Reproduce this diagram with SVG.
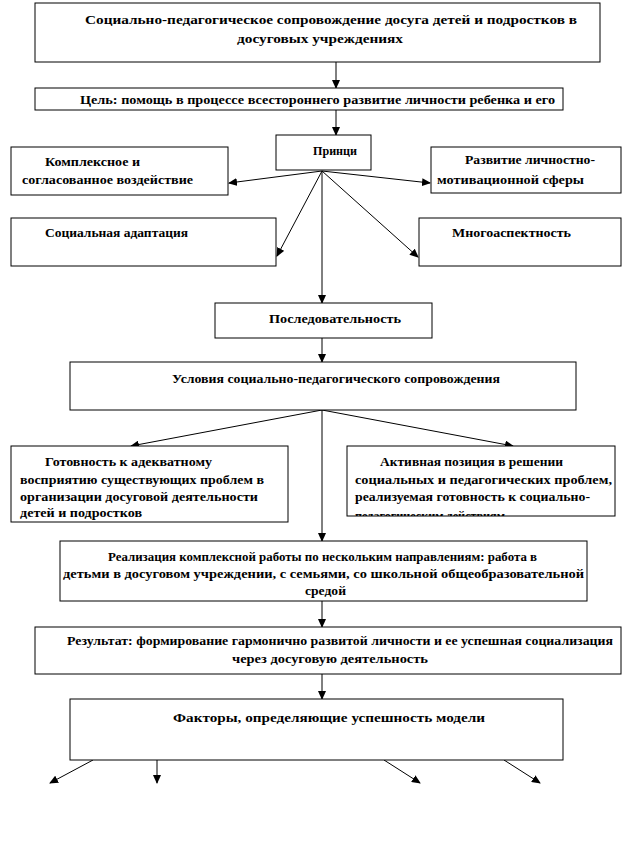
<svg xmlns="http://www.w3.org/2000/svg" width="636" height="856" viewBox="0 0 636 856">
<style>
.b{fill:#fff;stroke:#000;stroke-width:1}
text{font-family:'Liberation Serif','DejaVu Serif',serif;font-weight:bold;font-size:13px;fill:#000}
.l{stroke:#000;stroke-width:1;fill:none}
</style>
<defs>
<marker id="a" markerUnits="userSpaceOnUse" markerWidth="9" markerHeight="8" refX="8" refY="4" orient="auto">
<path d="M0,0 L9,4 L0,8 z" fill="#000"/>
</marker>
<clipPath id="clip11"><rect x="347" y="446" width="268" height="70"/></clipPath>
</defs>
<rect width="636" height="856" fill="#fff"/>
<g id="connectors">
<line class="l" x1="336" y1="62" x2="336" y2="88" marker-end="url(#a)"/>
<line class="l" x1="336" y1="110" x2="336" y2="135" marker-end="url(#a)"/>
<line class="l" x1="322" y1="171" x2="229" y2="183" marker-end="url(#a)"/>
<line class="l" x1="322" y1="171" x2="430" y2="183" marker-end="url(#a)"/>
<line class="l" x1="322" y1="171" x2="277" y2="256" marker-end="url(#a)"/>
<line class="l" x1="322" y1="171" x2="418" y2="257" marker-end="url(#a)"/>
<line class="l" x1="322" y1="171" x2="322" y2="303" marker-end="url(#a)"/>
<line class="l" x1="322" y1="338" x2="322" y2="362" marker-end="url(#a)"/>
<line class="l" x1="322" y1="410" x2="131" y2="446" marker-end="url(#a)"/>
<line class="l" x1="322" y1="410" x2="513" y2="446" marker-end="url(#a)"/>
<line class="l" x1="322" y1="410" x2="322" y2="541" marker-end="url(#a)"/>
<line class="l" x1="322" y1="601" x2="322" y2="627" marker-end="url(#a)"/>
<line class="l" x1="322" y1="674" x2="322" y2="699" marker-end="url(#a)"/>
<line class="l" x1="93" y1="760" x2="50" y2="783" marker-end="url(#a)"/>
<line class="l" x1="157" y1="760" x2="157" y2="783" marker-end="url(#a)"/>
<line class="l" x1="384" y1="760" x2="420" y2="783" marker-end="url(#a)"/>
<line class="l" x1="504" y1="760" x2="540" y2="783" marker-end="url(#a)"/>
</g>
<g id="n1"><rect class="b" x="35" y="3" width="565" height="59"/>
<text x="85" y="24" textLength="492" lengthAdjust="spacingAndGlyphs">Социально-педагогическое сопровождение досуга детей и подростков в</text>
<text x="237" y="43" textLength="166" lengthAdjust="spacingAndGlyphs">досуговых  учреждениях</text></g>
<g id="n2"><rect class="b" x="35" y="88" width="528" height="22"/>
<text x="80" y="104" textLength="475" lengthAdjust="spacingAndGlyphs">Цель: помощь в процессе всестороннего развитие личности ребенка и его</text></g>
<g id="n3"><rect class="b" x="276" y="135" width="95" height="35"/>
<text x="313" y="155" textLength="44" lengthAdjust="spacingAndGlyphs">Принци</text></g>
<g id="n4"><rect class="b" x="11" y="147" width="217" height="48"/>
<text x="45" y="166" textLength="95" lengthAdjust="spacingAndGlyphs">Комплексное и</text>
<text x="22" y="184" textLength="171" lengthAdjust="spacingAndGlyphs">согласованное воздействие</text></g>
<g id="n5"><rect class="b" x="431" y="147" width="190" height="46"/>
<text x="465" y="164" textLength="130" lengthAdjust="spacingAndGlyphs">Развитие личностно-</text>
<text x="437" y="184" textLength="147" lengthAdjust="spacingAndGlyphs">мотивационной  сферы</text></g>
<g id="n6"><rect class="b" x="11" y="218" width="265" height="48"/>
<text x="45" y="237" textLength="143" lengthAdjust="spacingAndGlyphs">Социальная адаптация</text></g>
<g id="n7"><rect class="b" x="419" y="218" width="202" height="48"/>
<text x="452" y="237" textLength="119" lengthAdjust="spacingAndGlyphs">Многоаспектность</text></g>
<g id="n8"><rect class="b" x="215" y="303" width="217" height="35"/>
<text x="269" y="323" textLength="132" lengthAdjust="spacingAndGlyphs">Последовательность</text></g>
<g id="n9"><rect class="b" x="70" y="362" width="506" height="48"/>
<text x="172" y="383" textLength="328" lengthAdjust="spacingAndGlyphs">Условия социально-педагогического  сопровождения</text></g>
<g id="n10"><rect class="b" x="11" y="446" width="277" height="76"/>
<text x="45" y="466" textLength="167" lengthAdjust="spacingAndGlyphs">Готовность к адекватному</text>
<text x="20" y="484" textLength="244" lengthAdjust="spacingAndGlyphs">восприятию  существующих проблем в</text>
<text x="20" y="501" textLength="238" lengthAdjust="spacingAndGlyphs">организации  досуговой деятельности</text>
<text x="20" y="517" textLength="122" lengthAdjust="spacingAndGlyphs">детей и подростков</text></g>
<g id="n11"><rect class="b" x="347" y="446" width="268" height="70"/>
<g clip-path="url(#clip11)">
<text x="380" y="466" textLength="183" lengthAdjust="spacingAndGlyphs">Активная позиция  в решении</text>
<text x="355" y="484" textLength="257" lengthAdjust="spacingAndGlyphs">социальных   и педагогических проблем,</text>
<text x="355" y="501" textLength="235" lengthAdjust="spacingAndGlyphs">реализуемая готовность к социально-</text>
<text x="355" y="520" textLength="150" lengthAdjust="spacingAndGlyphs">педагогическим действиям</text>
</g></g>
<g id="n12"><rect class="b" x="60" y="541" width="527" height="60"/>
<text x="108" y="561" textLength="429" lengthAdjust="spacingAndGlyphs">Реализация комплексной  работы по нескольким направлениям:  работа в</text>
<text x="63" y="578" textLength="521" lengthAdjust="spacingAndGlyphs">детьми в досуговом учреждении, с семьями, со школьной общеобразовательной</text>
<text x="305" y="595" textLength="41" lengthAdjust="spacingAndGlyphs">средой</text></g>
<g id="n13"><rect class="b" x="35" y="627" width="586" height="47"/>
<text x="67" y="645" textLength="546" lengthAdjust="spacingAndGlyphs">Результат: формирование гармонично  развитой личности и ее успешная социализация</text>
<text x="232" y="663" textLength="196" lengthAdjust="spacingAndGlyphs">через досуговую деятельность</text></g>
<g id="n14"><rect class="b" x="70" y="699" width="493" height="61"/>
<text x="173" y="722" textLength="312" lengthAdjust="spacingAndGlyphs">Факторы, определяющие  успешность  модели</text></g>
</svg>
